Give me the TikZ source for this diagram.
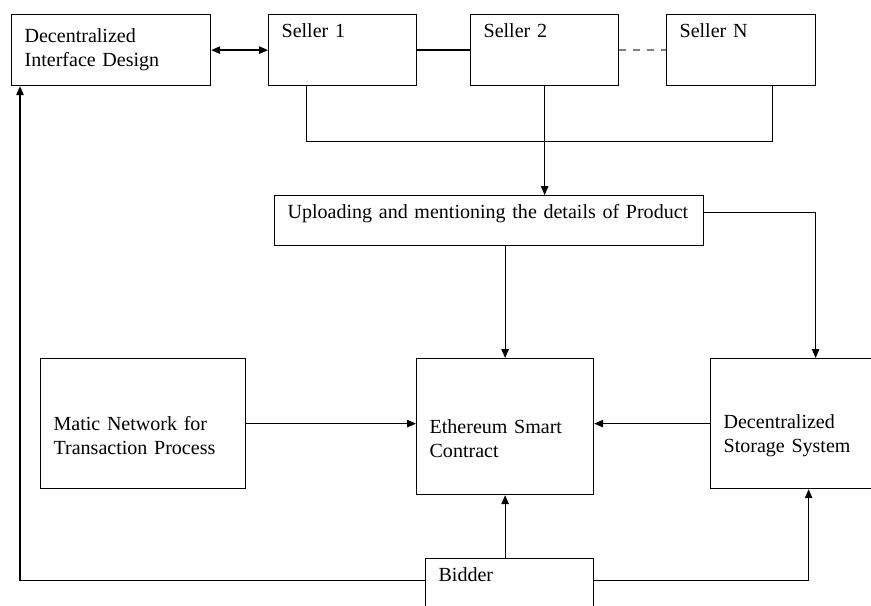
\documentclass[tikz,border=0pt]{standalone}
\usepackage{fontspec}
\setmainfont{Liberation Serif}
\usepackage{tikz}
\usetikzlibrary{arrows.meta, positioning}

\begin{document}
\begin{tikzpicture}[
    every node/.style={font=\fontsize{11.4}{13.6}\selectfont},
    >={Triangle[length=1.8mm, width=1.5mm]},
    box/.style={rectangle, draw, line width=0.7pt, inner xsep=0.26cm, align=left, anchor=north west},
    toptext/.style={inner ysep=0.15cm, text height=0.3cm},
    arrow/.style={->, line width=0.7pt},
    link/.style={line width=0.7pt}
]
    \clip (0,0) rectangle (17.42,-12.10);

    % top row
    \node[box, text width=3.46cm, minimum height=1.42cm] (did) at (0.22,-0.28) {Decentralized\\Interface Design};
    \node[box, toptext, text width=2.44cm, text depth=0.82cm] (s1) at (5.36,-0.28) {Seller 1};
    \node[box, toptext, text width=2.44cm, text depth=0.82cm] (s2) at (9.40,-0.28) {Seller 2};
    \node[box, toptext, text width=2.46cm, text depth=0.82cm] (sN) at (13.32,-0.28) {Seller N};

    \node[box, toptext, text width=8.06cm, text depth=0.40cm] (up) at (5.48,-3.90) {Uploading and mentioning the details of Product};

    % middle row (the rule pushes the two lines a little below the middle)
    \node[box, text width=3.58cm, minimum height=2.60cm] (ma) at (0.80,-7.16) {\rule{0pt}{0.75cm}Matic Network for\\Transaction Process};
    \node[box, text width=3.02cm, minimum height=2.72cm] (esc) at (8.32,-7.16) {\rule{0pt}{0.75cm}Ethereum Smart\\Contract};
    \node[box, text width=2.88cm, minimum height=2.60cm] (st) at (14.20,-7.16) {\rule{0pt}{0.75cm}Decentralized\\Storage System};

    \node[box, toptext, text width=2.84cm, text depth=0.60cm] (bid) at (8.50,-11.16) {Bidder};

    \draw[<->, line width=0.7pt] (did.east) -- (s1.west);
    \draw[link] (s1.east) -- (s2.west);
    \draw[link, gray, dash pattern=on 4pt off 4pt] (s2.east) -- (sN.west);
    \draw[link] ([xshift=-0.72cm]s1.south) -- ++(0,-1.10) -| ([xshift=0.63cm]sN.south);
    \draw[arrow] (s2.south) -- (s2.south |- up.north);
    \draw[arrow] ([yshift=0.16cm]up.east) -| ([xshift=0.40cm]st.north);
    \draw[arrow] (up.south -| esc.north) -- (esc.north);
    \draw[arrow] (ma.east) -- (ma.east -| esc.west);
    \draw[arrow] (st.west) -- (st.west -| esc.east);
    \draw[arrow] (esc.south |- bid.north) -- (esc.south);
    \draw[arrow] ([yshift=0.16cm]bid.west) -| ([xshift=0.18cm]did.south west);
    \draw[arrow] ([yshift=0.16cm]bid.east) -| ([xshift=0.26cm]st.south);
\end{tikzpicture}
\end{document}
